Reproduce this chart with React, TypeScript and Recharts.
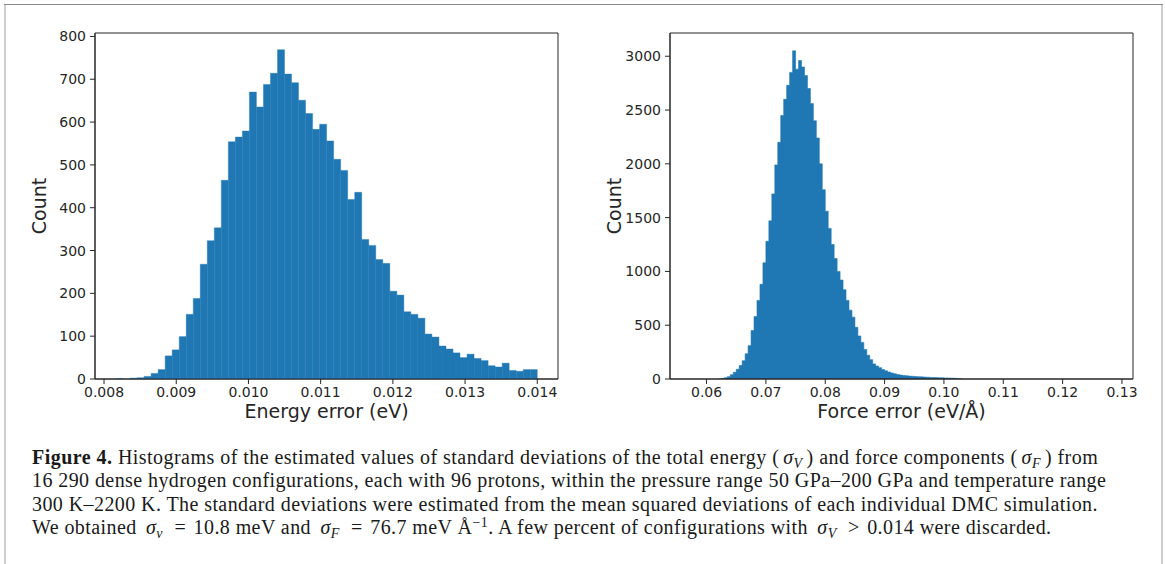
import { Area, Bar, ComposedChart, ReferenceArea, XAxis, YAxis } from 'recharts';

const BLUE = '#1f77b4';
const INK = '#262626';

// energy error histogram: 60 equal bins between these edges
const energyLo = 0.008166;
const energyHi = 0.014;
const energyCounts = [
  1, 0, 2, 3, 6, 13, 22, 54, 68, 99,
  151, 188, 268, 323, 353, 464, 554, 565, 579, 670,
  635, 688, 714, 769, 712, 692, 651, 620, 583, 595,
  556, 513, 487, 419, 436, 326, 312, 279, 270, 205,
  196, 157, 151, 142, 105, 98, 77, 70, 61, 50,
  58, 48, 43, 31, 28, 37, 20, 18, 22, 22,
];
const energyTicks = [0.008, 0.009, 0.01, 0.011, 0.012, 0.013, 0.014];
const energyCountTicks = [0, 100, 200, 300, 400, 500, 600, 700, 800];

// force error histogram: bins of 0.0005 starting here
const forceLo = 0.062;
const forceBin = 0.0005;
const forceCounts = [
  1, 4, 12, 22, 40, 62, 90, 125, 170, 235,
  310, 450, 580, 730, 880, 1080, 1280, 1470, 1720, 1990,
  2200, 2450, 2600, 2730, 2850, 3050, 2880, 2960, 2900, 2820,
  2700, 2560, 2400, 2240, 2000, 1760, 1560, 1400, 1250, 1120,
  1000, 920, 830, 730, 640, 575, 480, 400, 340, 275,
  220, 180, 140, 120, 105, 88, 76, 65, 56, 48,
  42, 37, 33, 30, 27, 25, 23, 21, 20, 18,
  17, 15, 14, 13, 12, 11, 10, 9, 8, 7,
  5, 2,
];
const forceTicks = [0.06, 0.07, 0.08, 0.09, 0.1, 0.11, 0.12, 0.13];
const forceCountTicks = [0, 500, 1000, 1500, 2000, 2500, 3000];

// bars sit on bin centres
const energyWidth = (energyHi - energyLo) / energyCounts.length;
const energyData = energyCounts.map((c, i) => ({ x: energyLo + (i + 0.5) * energyWidth, count: c }));

// the narrow force bins are drawn as a step area from each bin's left edge,
// closed with a zero at the right edge of the last bin
const forceData = [
  ...forceCounts.map((c, i) => ({ x: forceLo + i * forceBin, count: c })),
  { x: forceLo + forceCounts.length * forceBin, count: 0 },
];

const tickStyle = { fontSize: 14, fill: INK, fontFamily: 'DejaVu Sans' };
const labelStyle = { fontSize: 19, fill: INK, fontFamily: 'DejaVu Sans' };

interface HistProps {
  data: { x: number; count: number }[];
  xDomain: [number, number];
  xTicks: number[];
  xFmt: (v: number) => string;
  yDomain: [number, number];
  yTicks: number[];
  xLabel: string;
  yAxisWidth: number;
  rightMargin: number;
  step?: boolean;
}

function Hist({ data, xDomain, xTicks, xFmt, yDomain, yTicks, xLabel, yAxisWidth, rightMargin, step }: HistProps) {
  return (
    <ComposedChart
      width={580}
      height={430}
      data={data}
      margin={{ top: 33, right: rightMargin, bottom: 0, left: 0 }}
      barCategoryGap={0}
      barGap={0}
    >
      <XAxis
        dataKey="x"
        type="number"
        domain={xDomain}
        allowDataOverflow
        ticks={xTicks}
        interval={0}
        tickFormatter={xFmt}
        height={51}
        tickSize={5}
        tickMargin={3}
        stroke={INK}
        tick={tickStyle}
        label={{ value: xLabel, position: 'insideTop', offset: 26, style: labelStyle }}
      />
      <YAxis
        type="number"
        domain={yDomain}
        allowDataOverflow
        ticks={yTicks}
        interval={0}
        width={yAxisWidth}
        tickSize={5}
        tickMargin={4}
        stroke={INK}
        tick={tickStyle}
        label={{
          value: 'Count',
          angle: -90,
          position: 'insideLeft',
          offset: yAxisWidth - 56,
          style: { ...labelStyle, textAnchor: 'middle' },
        }}
      />
      {step ? (
        <Area
          type="stepAfter"
          dataKey="count"
          fill={BLUE}
          fillOpacity={1}
          stroke={BLUE}
          strokeWidth={0.6}
          isAnimationActive={false}
        />
      ) : (
        <Bar dataKey="count" fill={BLUE} stroke={BLUE} strokeWidth={0.4} isAnimationActive={false} />
      )}
      <ReferenceArea
        x1={xDomain[0]}
        x2={xDomain[1]}
        y1={yDomain[0]}
        y2={yDomain[1]}
        fill="none"
        stroke={INK}
        strokeWidth={1}
        ifOverflow="extendDomain"
      />
    </ComposedChart>
  );
}

const captionLine = { height: 23.4, lineHeight: '23.4px', whiteSpace: 'nowrap' as const };
const sub = { fontSize: '0.7em', verticalAlign: '-0.3em', lineHeight: 0 };
const sup = { fontSize: '0.7em', verticalAlign: '0.5em', lineHeight: 0 };
const rel = { margin: '0 2px' };

function Sigma({ s }: { s: string }) {
  return (
    <span style={{ margin: '0 4px' }}>
      <i>σ</i>
      <span style={sub}>
        <i>{s}</i>
      </span>
    </span>
  );
}

export default function App() {
  return (
    <div style={{ position: 'relative', width: 1165, height: 564, background: '#fff', overflow: 'hidden' }}>
      <style>{'body{margin:0}'}</style>
      <div style={{ position: 'absolute', left: 4, top: 4, width: 2, height: 560, background: '#cfcfcf' }} />
      <div style={{ position: 'absolute', left: 1161, top: 4, width: 2, height: 560, background: '#cfcfcf' }} />
      <div style={{ position: 'absolute', left: 4, top: 4, width: 1159, height: 1, background: '#8a8a8a' }} />

      <div style={{ position: 'absolute', left: 0, top: 0 }}>
        <Hist
          data={energyData}
          xDomain={[0.007875, 0.014287]}
          xTicks={energyTicks}
          xFmt={(v) => v.toFixed(3)}
          yDomain={[0, 808]}
          yTicks={energyCountTicks}
          xLabel="Energy error (eV)"
          yAxisWidth={95}
          rightMargin={22}
        />
      </div>
      <div style={{ position: 'absolute', left: 580, top: 0 }}>
        <Hist
          data={forceData}
          xDomain={[0.05384, 0.13186]}
          xTicks={forceTicks}
          xFmt={(v) => v.toFixed(2)}
          yDomain={[0, 3216]}
          yTicks={forceCountTicks}
          xLabel="Force error (eV/Å)"
          yAxisWidth={90}
          rightMargin={27}
          step
        />
      </div>

      <div
        style={{
          position: 'absolute',
          left: 32,
          top: 446,
          fontFamily: 'Liberation Serif',
          fontSize: 20,
          letterSpacing: '0.42px',
          color: '#1a1a1a',
        }}
      >
        <div style={{ ...captionLine, letterSpacing: '0.46px' }}>
          <b>Figure 4.</b> Histograms of the estimated values of standard deviations of the total energy (<Sigma s="V" />) and force components (<Sigma s="F" />) from
        </div>
        <div style={captionLine}>
          16 290 dense hydrogen configurations, each with 96 protons, within the pressure range 50 GPa–200 GPa and temperature range
        </div>
        <div style={captionLine}>
          300 K–2200 K. The standard deviations were estimated from the mean squared deviations of each individual DMC simulation.
        </div>
        <div style={captionLine}>
          We obtained <Sigma s="v" /> <span style={rel}>=</span> 10.8 meV and <Sigma s="F" /> <span style={rel}>=</span> 76.7 meV Å
          <span style={sup}>−1</span>. A few percent of configurations with <Sigma s="V" /> <span style={rel}>&gt;</span> 0.014 were discarded.
        </div>
      </div>
    </div>
  );
}
